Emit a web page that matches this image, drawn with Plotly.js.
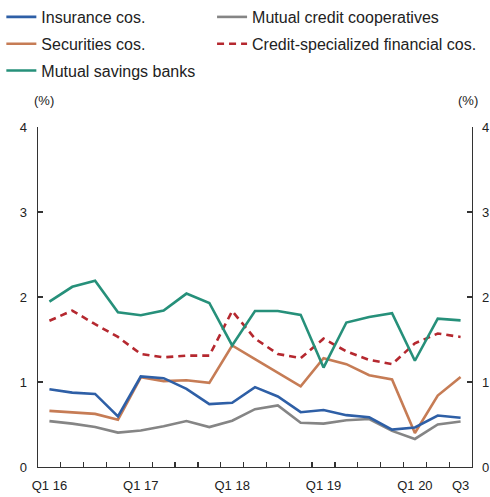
<!DOCTYPE html>
<html>
<head>
<meta charset="utf-8">
<script src="https://cdn.plot.ly/plotly-3.0.1.min.js"></script>
<style>
html,body{margin:0;padding:0;background:#fff;}
#chart{width:490px;height:497px;}
</style>
</head>
<body>
<div id="chart"></div>
<script>
const quarters = ["Q1 16","Q2 16","Q3 16","Q4 16","Q1 17","Q2 17","Q3 17","Q4 17","Q1 18","Q2 18","Q3 18","Q4 18","Q1 19","Q2 19","Q3 19","Q4 19","Q1 20","Q2 20","Q3 20"];
const tickLabels = ["Q1 16","","","","Q1 17","","","","Q1 18","","","","Q1 19","","","","Q1 20","","Q3"];

const insurance = [0.915,0.875,0.86,0.595,1.065,1.045,0.92,0.74,0.755,0.94,0.83,0.645,0.67,0.61,0.585,0.44,0.465,0.605,0.58];
const mutualCredit = [0.54,0.51,0.47,0.405,0.43,0.48,0.54,0.47,0.545,0.68,0.725,0.52,0.51,0.55,0.565,0.425,0.33,0.50,0.535];
const securities = [0.66,0.645,0.625,0.555,1.055,1.01,1.02,0.99,1.43,1.27,1.11,0.95,1.28,1.21,1.08,1.03,0.40,0.84,1.06];
const creditSpecialized = [1.72,1.84,1.68,1.53,1.33,1.29,1.31,1.31,1.835,1.51,1.33,1.28,1.51,1.36,1.26,1.21,1.455,1.57,1.53];
const mutualSavings = [1.945,2.12,2.19,1.82,1.785,1.84,2.04,1.93,1.43,1.835,1.835,1.79,1.17,1.70,1.765,1.81,1.25,1.745,1.725];

const seriesNames = ["Insurance cos.","Securities cos.","Mutual savings banks","Mutual credit cooperatives","Credit-specialized financial cos."];
const seriesValues = [insurance, securities, mutualSavings, mutualCredit, creditSpecialized];
const seriesColors = ["#2e5fa6","#c67c55","#26907a","#858585","#b5282f"];
const seriesDash = ["solid","solid","solid","solid","7px,5px"];
const seriesLegend = ["legend","legend","legend","legend2","legend2"];
const drawOrder = [3,1,0,4,2];

const traces = drawOrder.map(k => ({
  x: quarters,
  y: seriesValues[k],
  name: seriesNames[k],
  legend: seriesLegend[k],
  legendgroup: "g" + k,
  legendrank: k + 1,
  // the last drawn series sits on the right-hand axis (same 0-4 scale) so that axis is drawn
  yaxis: k === 2 ? "y2" : "y",
  type: "scatter",
  mode: "lines",
  line: {color: seriesColors[k], width: 2.6, dash: seriesDash[k]},
  hoverinfo: "skip"
}));

const font = {family: "Liberation Sans, Arial, sans-serif", size: 13, color: "#222"};
const legendFont = {family: "Liberation Sans, Arial, sans-serif", size: 16, color: "#222"};

const axisCommon = {
  ticks: "inside",
  ticklen: 5,
  tickwidth: 1.3,
  tickcolor: "#333",
  showline: true,
  linecolor: "#333",
  linewidth: 1.3,
  showgrid: false,
  zeroline: false,
  tickfont: font,
  fixedrange: true
};

const plotLeft = 37.7, plotWidth = 490 - 37.7 - 17.7;

const layout = {
  width: 490,
  height: 497,
  margin: {l: 37.7, r: 17.7, t: 127.3, b: 30.3, pad: 0},
  paper_bgcolor: "#fff",
  plot_bgcolor: "#fff",
  font: font,
  showlegend: true,
  legend: {
    orientation: "v",
    xref: "paper", yref: "container",
    x: (1 - plotLeft) / plotWidth, y: 1.007, xanchor: "left", yanchor: "top",
    font: legendFont,
    traceorder: "grouped",
    tracegroupgap: 3,
    bgcolor: "rgba(0,0,0,0)"
  },
  legend2: {
    orientation: "v",
    xref: "paper", yref: "container",
    x: (212 - plotLeft) / plotWidth, y: 1.007, xanchor: "left", yanchor: "top",
    font: legendFont,
    traceorder: "grouped",
    tracegroupgap: 3,
    bgcolor: "rgba(0,0,0,0)"
  },
  xaxis: Object.assign({}, axisCommon, {
    type: "category",
    categoryorder: "array",
    categoryarray: quarters,
    range: [-0.5, 18.5],
    tickmode: "array",
    tickvals: quarters,
    ticktext: tickLabels,
    tickson: "boundaries",
    tickangle: 0,
    ticklabelstandoff: 6
  }),
  yaxis: Object.assign({}, axisCommon, {
    range: [0, 4],
    tickmode: "linear", tick0: 0, dtick: 1,
    ticklabelstandoff: 7
  }),
  yaxis2: Object.assign({}, axisCommon, {
    overlaying: "y",
    side: "right",
    range: [0, 4],
    tickmode: "linear", tick0: 0, dtick: 1,
    ticklabelstandoff: 6
  }),
  annotations: [
    {text: "(%)", xref: "paper", yref: "paper", x: 0.013, y: 1.078, xanchor: "center", yanchor: "middle", showarrow: false, font: font},
    {text: "(%)", xref: "paper", yref: "paper", x: 0.99, y: 1.078, xanchor: "center", yanchor: "middle", showarrow: false, font: font}
  ]
};

Plotly.newPlot("chart", traces, layout, {staticPlot: true, displayModeBar: false});
</script>
</body>
</html>
